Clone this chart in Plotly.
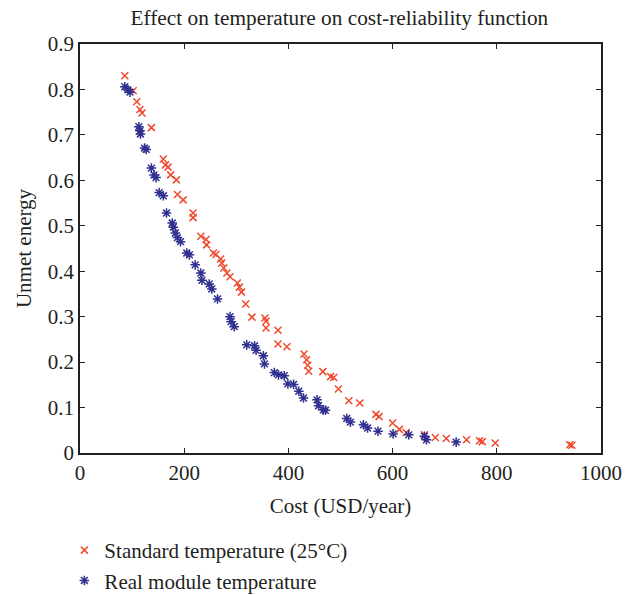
import plotly.graph_objects as go

# Standard temperature (25°C)
std_cost = [86, 102, 109, 115, 119, 137, 160, 164, 169, 174, 185, 187, 198, 217, 217,
            232, 242, 243, 256, 261, 270, 272, 276, 282, 288, 302, 306, 310, 318, 330,
            355, 357, 357, 380, 380, 397, 430, 435, 437, 439, 466, 481, 487, 496, 516,
            537, 568, 574, 600, 613, 626, 661, 682, 703, 742, 767, 772, 797, 940, 944]
std_unmet = [0.830, 0.797, 0.773, 0.756, 0.748, 0.716, 0.647, 0.634, 0.629, 0.612, 0.601,
             0.569, 0.557, 0.528, 0.518, 0.477, 0.470, 0.458, 0.440, 0.437, 0.427, 0.418,
             0.407, 0.396, 0.388, 0.374, 0.365, 0.354, 0.328, 0.299, 0.297, 0.290, 0.275,
             0.270, 0.240, 0.234, 0.218, 0.205, 0.193, 0.180, 0.179, 0.168, 0.166, 0.141,
             0.115, 0.110, 0.085, 0.080, 0.066, 0.052, 0.045, 0.040, 0.034, 0.032, 0.029,
             0.027, 0.025, 0.022, 0.018, 0.017]

# Real module temperature
real_cost = [86, 92, 96, 113, 115, 116, 124, 127, 137, 142, 146, 152, 160, 166, 177, 179,
             183, 187, 193, 205, 210, 221, 232, 234, 248, 253, 264, 288, 290, 296, 320, 335,
             338, 352, 354, 373, 381, 392, 399, 410, 420, 429, 455, 458, 467, 471, 512, 519,
             544, 552, 572, 601, 631, 661, 665, 722]
real_unmet = [0.806, 0.799, 0.794, 0.718, 0.709, 0.702, 0.671, 0.668, 0.627, 0.612, 0.606,
              0.573, 0.566, 0.528, 0.506, 0.497, 0.484, 0.474, 0.465, 0.440, 0.436, 0.414,
              0.396, 0.380, 0.372, 0.361, 0.339, 0.300, 0.289, 0.278, 0.238, 0.236, 0.226,
              0.214, 0.196, 0.177, 0.172, 0.170, 0.152, 0.151, 0.136, 0.121, 0.117, 0.104,
              0.095, 0.094, 0.076, 0.068, 0.062, 0.055, 0.048, 0.042, 0.040, 0.037, 0.029,
              0.024]

x_ticks = [0, 200, 400, 600, 800, 1000]
y_ticks = [0, 0.1, 0.2, 0.3, 0.4, 0.5, 0.6, 0.7, 0.8, 0.9]
y_tick_text = ["0", "0.1", "0.2", "0.3", "0.4", "0.5", "0.6", "0.7", "0.8", "0.9"]

FONT = "Liberation Serif"
TXT = "#231f20"

W, H = 632, 595
M_L, M_R, M_T, M_B = 80, 31, 44, 0
PLOT_BOTTOM = 453
paper_h = H - M_T - M_B
y_dom_low = (H - PLOT_BOTTOM - M_B) / paper_h

fig = go.Figure()
fig.add_trace(go.Scatter(
    x=std_cost, y=std_unmet, mode="markers", name="Standard temperature (25°C)",
    marker=dict(symbol="x-thin-open", size=7, color="#ef4a2d",
                line=dict(width=1.5, color="#ef4a2d")),
))
fig.add_trace(go.Scatter(
    x=real_cost, y=real_unmet, mode="markers", name="Real module temperature",
    marker=dict(symbol="asterisk-open", size=8, color="#303090",
                line=dict(width=1.5, color="#303090")),
))

axis_common = dict(showgrid=False, zeroline=False, showline=True, linecolor="#231f20",
                   linewidth=1.5, mirror="ticks", ticks="inside", ticklen=5,
                   tickwidth=1.2, tickcolor="#231f20", automargin=False,
                   tickfont=dict(family=FONT, size=21, color=TXT))

fig.update_layout(
    width=W, height=H,
    margin=dict(l=M_L, r=M_R, t=M_T, b=M_B, autoexpand=False),
    plot_bgcolor="white", paper_bgcolor="white",
    font=dict(family=FONT, color=TXT),
    title=dict(text="Effect on temperature on cost-reliability function",
               x=0.537, xanchor="center", y=0.971, yanchor="middle",
               font=dict(family=FONT, size=21.3, color=TXT)),
    xaxis=dict(range=[0, 1000], tickvals=x_ticks,
               title=dict(text="Cost (USD/year)", font=dict(family=FONT, size=21, color=TXT),
                          standoff=14),
               **axis_common),
    yaxis=dict(range=[0, 0.9], tickvals=y_ticks, ticktext=y_tick_text,
               domain=[y_dom_low, 1],
               title=dict(text="Unmet energy", font=dict(family=FONT, size=21, color=TXT),
                          standoff=10),
               **axis_common),
    showlegend=True,
    legend=dict(x=-0.03, xanchor="left", y=-6 / paper_h, yanchor="bottom",
                font=dict(family=FONT, size=21, color=TXT),
                bgcolor="rgba(0,0,0,0)", tracegroupgap=0, itemsizing="trace"),
)

fig.write_html("out.html", config={"displayModeBar": False},
               post_script="document.body.style.margin='0';")
